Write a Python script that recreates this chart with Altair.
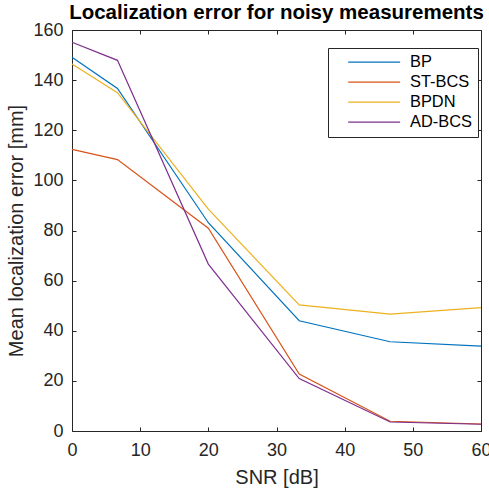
import altair as alt
import pandas as pd

methods = ["BP", "ST-BCS", "BPDN", "AD-BCS"]
colors = ["#0072BD", "#D95319", "#EDB120", "#7E2F8E"]
snr = [0, 6.67, 20, 33.33, 46.67, 60]
bp = [149.1, 136.7, 83.1, 44.0, 35.6, 33.9]
st_bcs = [112.4, 108.3, 80.9, 22.7, 3.9, 2.8]
bpdn = [146.4, 135.0, 88.5, 50.3, 46.6, 49.2]
ad_bcs = [155.1, 147.9, 66.6, 20.9, 3.6, 2.7]
xticks = [0, 10, 20, 30, 40, 50, 60]
yticks = [0, 20, 40, 60, 80, 100, 120, 140, 160]

rows = []
for name, vals in zip(methods, [bp, st_bcs, bpdn, ad_bcs]):
    for s, v in zip(snr, vals):
        rows.append({"snr": s, "err": v, "method": name})
df = pd.DataFrame(rows)

W, H = 409, 401
FONT = "Liberation Sans"
AX = "#262626"

xscale = alt.Scale(domain=[0, 60], nice=False, zero=False)
yscale = alt.Scale(domain=[0, 160], nice=False, zero=False)

common = dict(grid=False, domainColor=AX, domainWidth=1, tickColor=AX, tickWidth=1,
              labelColor=AX, labelFont=FONT, labelFontSize=18, titleFont=FONT,
              titleFontSize=20, titleColor=AX, titleFontWeight="normal")

main = alt.Chart(df).mark_line(strokeWidth=1.2).encode(
    x=alt.X("snr:Q", scale=xscale,
            axis=alt.Axis(orient="bottom", values=xticks, title="SNR [dB]", ticks=False,
                          labelPadding=10, titlePadding=8, labelFlush=False, **common)),
    y=alt.Y("err:Q", scale=yscale,
            axis=alt.Axis(orient="left", values=yticks, title="Mean localization error [mm]",
                          ticks=False, labelPadding=9, titlePadding=6, **common)),
    color=alt.Color("method:N", scale=alt.Scale(domain=methods, range=colors),
                    legend=alt.Legend(orient="none", legendX=256, legendY=18, title=None,
                                      symbolType="M1.15,0H11.15", symbolSize=108,
                                      symbolStrokeWidth=1.2, labelFont=FONT,
                                      labelFontSize=16.4, labelColor="black",
                                      strokeColor=AX, fillColor="white",
                                      padding=6, rowPadding=3, labelOffset=59.6)),
    detail="method:N",
)

tick_in_a = alt.Chart(df).mark_point(opacity=0).encode(
    x=alt.X("snr:Q", scale=xscale,
            axis=alt.Axis(orient="top", offset=-H, values=xticks, labels=False, domain=False,
                          ticks=True, tickSize=4, title=None, **common)),
    y=alt.Y("err:Q", scale=yscale,
            axis=alt.Axis(orient="right", offset=-W, values=yticks, labels=False, domain=False,
                          ticks=True, tickSize=4, title=None, **common)),
)

tick_in_b = alt.Chart(df).mark_point(opacity=0).encode(
    x=alt.X("snr:Q", scale=xscale,
            axis=alt.Axis(orient="bottom", offset=-H, values=xticks, labels=False, domain=True,
                          ticks=True, tickSize=4, title=None, **common)),
    y=alt.Y("err:Q", scale=yscale,
            axis=alt.Axis(orient="left", offset=-W, values=yticks, labels=False, domain=True,
                          ticks=True, tickSize=4, title=None, **common)),
)

chart = alt.layer(tick_in_a, tick_in_b, main).resolve_axis(
    x="independent", y="independent"
).properties(
    width=W, height=H,
    title=alt.TitleParams("Localization error for noisy measurements", font=FONT,
                          fontSize=20.5, fontWeight="bold", color="black",
                          anchor="middle", frame="group", baseline="alphabetic", offset=-18),
    padding={"left": 72, "top": 30, "right": 8, "bottom": 60},
    autosize=alt.AutoSizeParams(type="none"),
    background="white",
).configure_view(strokeWidth=0)

chart.save("out.html", embed_options={"renderer": "svg", "actions": False})
